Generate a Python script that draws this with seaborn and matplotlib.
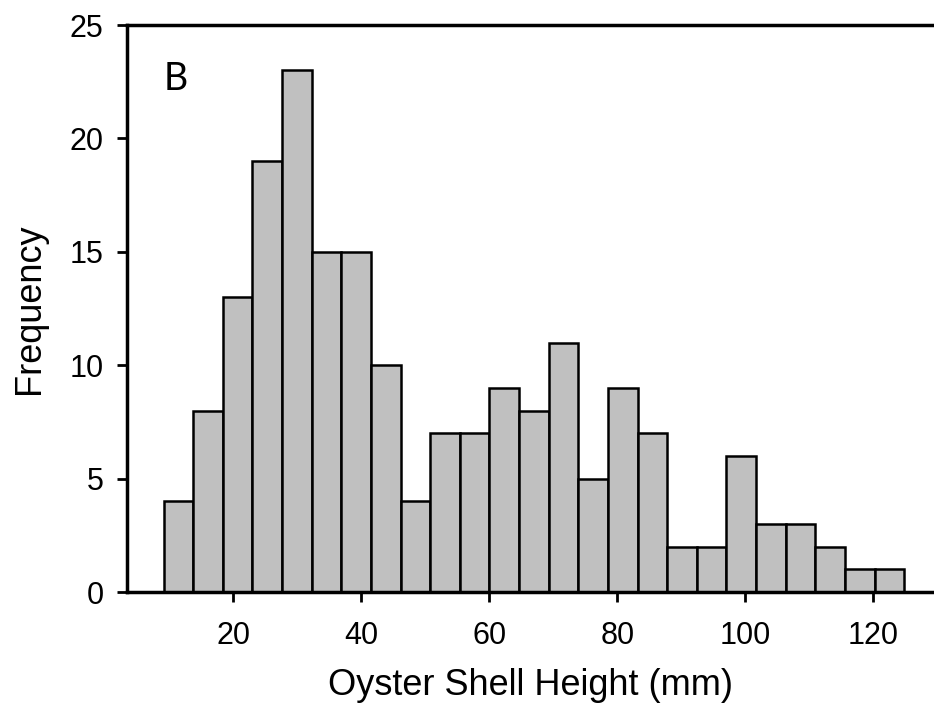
import numpy as np
import pandas as pd
import matplotlib
matplotlib.use("Agg")
import matplotlib.pyplot as plt
import seaborn as sns

# =========================
# Data
# =========================
counts = [4, 8, 13, 19, 23, 15, 15, 10, 4, 7, 7, 9, 8, 11, 5, 9, 7,
          2, 2, 6, 3, 3, 2, 1, 1]
first_edge = 9.1
bin_width = 4.63
bin_edges = first_edge + bin_width * np.arange(len(counts) + 1)
bin_centers = (bin_edges[:-1] + bin_edges[1:]) / 2

df = pd.DataFrame({"height": bin_centers, "count": counts})

# =========================
# Plot
# =========================
sns.set_style("ticks")
plt.rcParams["font.family"] = ["Liberation Sans", "DejaVu Sans"]
plt.rcParams["text.color"] = "black"
plt.rcParams["axes.labelcolor"] = "black"
plt.rcParams["xtick.color"] = "black"
plt.rcParams["ytick.color"] = "black"

fig = plt.figure(figsize=(9.34, 7.15), dpi=100)
ax = fig.add_axes([0.136, 0.172, 0.864, 0.793])

sns.histplot(data=df, x="height", weights="count",
             binwidth=bin_width, binrange=(bin_edges[0], bin_edges[-1]),
             color="#c0c0c0", edgecolor="black", linewidth=1.8,
             alpha=1, ax=ax)

ax.set_xlim(3.4, 129.5)
ax.set_ylim(0, 25)
ax.set_xticks([20, 40, 60, 80, 100, 120])
ax.set_yticks([0, 5, 10, 15, 20, 25])
ax.tick_params(axis="both", labelsize=22, width=2, length=7,
               color="black", labelcolor="black")
ax.tick_params(axis="x", pad=14)
ax.tick_params(axis="y", pad=10)

for side in ["left", "bottom", "top"]:
    ax.spines[side].set_linewidth(2.5)
    ax.spines[side].set_color("black")
ax.spines["right"].set_visible(False)

ax.set_xlabel("Oyster Shell Height (mm)", fontsize=26, labelpad=12,
              color="black")
ax.set_ylabel("Frequency", fontsize=26, labelpad=16, color="black")

ax.text(0.045, 0.905, "B", transform=ax.transAxes, fontsize=27,
        family=["Lato", "DejaVu Sans"], va="center", ha="left",
        color="black")

fig.savefig("out.png", dpi=100)
